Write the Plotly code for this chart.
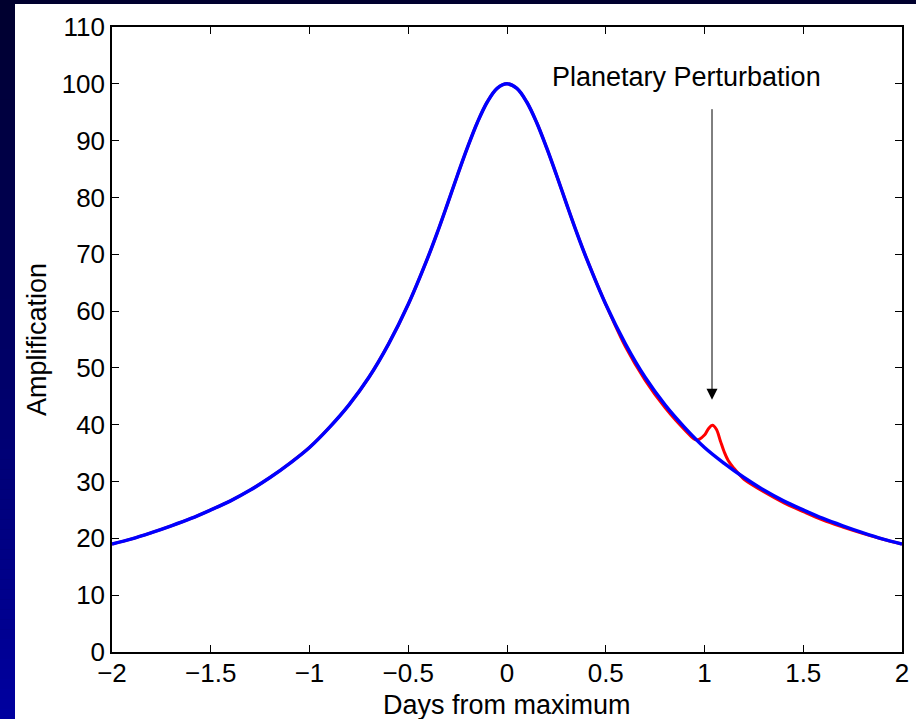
import plotly.graph_objects as go

# ---- data ----
t_blue = [-2.0, -1.9, -1.8, -1.7, -1.6, -1.5, -1.4, -1.3, -1.2, -1.1, -1.0,
          -0.9, -0.8, -0.7, -0.6, -0.5, -0.4, -0.35, -0.3, -0.25, -0.2, -0.15,
          -0.1, -0.05, 0.0, 0.05, 0.1, 0.15, 0.2, 0.25, 0.3, 0.35, 0.4, 0.5,
          0.6, 0.7, 0.8, 0.9, 1.0, 1.1, 1.2, 1.3, 1.4, 1.5, 1.6, 1.7, 1.8,
          1.9, 2.0]
a_blue = [19.0, 19.9, 21.0, 22.2, 23.5, 25.0, 26.6, 28.5, 30.7, 33.2, 36.0,
          39.5, 43.5, 48.3, 54.2, 61.2, 69.5, 74.1, 79.0, 84.0, 88.8, 93.2,
          96.8, 99.2, 100.0, 99.2, 96.8, 93.2, 88.8, 84.0, 79.0, 74.1, 69.5, 61.2,
          54.2, 48.3, 43.5, 39.5, 36.0, 33.2, 30.7, 28.5, 26.6, 25.0, 23.5, 22.2,
          21.0, 19.9, 19.0]

t_red = [-2.0, -1.9, -1.8, -1.7, -1.6, -1.5, -1.4, -1.3, -1.2, -1.1, -1.0,
         -0.9, -0.8, -0.7, -0.6, -0.5, -0.4, -0.35, -0.3, -0.25, -0.2, -0.15,
         -0.1, -0.05, 0.0, 0.05, 0.1, 0.15, 0.2, 0.25, 0.3, 0.35, 0.4, 0.5,
         0.6, 0.7, 0.8, 0.9, 0.96, 1.0, 1.02, 1.04, 1.06, 1.08, 1.10, 1.12,
         1.15, 1.18, 1.2, 1.3, 1.4, 1.5, 1.6, 1.7, 1.8, 1.9, 2.0]
a_red = [19.0, 19.9, 21.0, 22.2, 23.5, 25.0, 26.6, 28.5, 30.7, 33.2, 36.0,
         39.5, 43.5, 48.3, 54.2, 61.2, 69.5, 74.1, 79.0, 84.0, 88.8, 93.2,
         96.8, 99.2, 100.0, 99.2, 96.8, 93.2, 88.8, 84.0, 79.0, 74.1, 69.5, 61.2,
         53.7, 47.8, 43.0, 39.1, 37.3, 38.2, 39.3, 39.9, 39.2, 37.2, 35.2, 33.7,
         32.3, 31.1, 30.4, 28.2, 26.3, 24.7, 23.2, 22.0, 20.9, 19.9, 19.0]

x_ticks = [-2, -1.5, -1, -0.5, 0, 0.5, 1, 1.5, 2]
x_ticktext = ["\u22122", "\u22121.5", "\u22121", "\u22120.5", "0", "0.5", "1", "1.5", "2"]
y_ticks = [0, 10, 20, 30, 40, 50, 60, 70, 80, 90, 100, 110]

annot_text = "Planetary Perturbation"
annot_xy = (0.911, 101.2)
arrow_head = (1.038, 44.4)
arrow_tail = (1.038, 95.8)

# ---- geometry ----
W, H = 916, 719
L, R, T, B = 112, 14, 27, 67
PW, PH = W - L - R, H - T - B


def xp(px):
    return (px - L) / PW


def yp(py):
    return (H - B - py) / PH


FONT = "Liberation Sans, Arial, Helvetica, sans-serif"
TICK_SIZE = 26
TEXT_SIZE = 27

fig = go.Figure()
fig.add_trace(go.Scatter(x=t_red, y=a_red, mode="lines",
                         line=dict(color="#ff0000", width=3, shape="spline", smoothing=1.0),
                         showlegend=False, hoverinfo="skip"))
fig.add_trace(go.Scatter(x=t_blue, y=a_blue, mode="lines",
                         line=dict(color="#0000ff", width=3.5, shape="spline", smoothing=1.0),
                         showlegend=False, hoverinfo="skip"))

# background gradient stripes
shapes = []
N = 72
step = H / N
for i in range(N):
    y0 = i * step
    y1 = (i + 1) * step + 0.5
    f = (i + 0.5) / N
    b = int(0x2e + (0xa0 - 0x2e) * f)
    shapes.append(dict(type="rect", xref="paper", yref="paper",
                       x0=xp(0), x1=xp(W), y0=yp(y1), y1=yp(y0),
                       fillcolor=f"rgb(0,0,{b})", line=dict(width=0), layer="below"))
# white panel
shapes.append(dict(type="rect", xref="paper", yref="paper",
                   x0=xp(15), x1=xp(W + 2), y0=yp(H + 2), y1=yp(4),
                   fillcolor="white", line=dict(width=0), layer="below"))

annotations = [
    dict(x=annot_xy[0], y=annot_xy[1], xref="x", yref="y", text=annot_text,
         showarrow=False, font=dict(family=FONT, size=TEXT_SIZE, color="black"),
         xanchor="center", yanchor="middle"),
    dict(x=arrow_head[0], y=arrow_head[1], ax=arrow_tail[0], ay=arrow_tail[1],
         xref="x", yref="y", axref="x", ayref="y", text="", showarrow=True,
         arrowhead=2, arrowsize=2.2, arrowwidth=1, arrowcolor="black", standoff=0),
    dict(x=0.5, y=yp(705), xref="paper", yref="paper", text="Days from maximum",
         showarrow=False, font=dict(family=FONT, size=TEXT_SIZE, color="black"),
         xanchor="center", yanchor="middle"),
    dict(x=xp(37), y=yp(340), xref="paper", yref="paper", text="Amplification",
         showarrow=False, textangle=-90, font=dict(family=FONT, size=TEXT_SIZE, color="black"),
         xanchor="center", yanchor="middle"),
]

axis_common = dict(showline=True, linecolor="black", linewidth=1.5, mirror="allticks",
                   ticks="inside", ticklen=7, tickwidth=1, tickcolor="black",
                   showgrid=False, zeroline=False, automargin=False,
                   tickfont=dict(family=FONT, size=TICK_SIZE, color="black"))

fig.update_layout(
    width=W, height=H,
    margin=dict(l=L, r=R, t=T, b=B, pad=0, autoexpand=False),
    paper_bgcolor="rgb(0,0,60)", plot_bgcolor="white",
    shapes=shapes, annotations=annotations,
    xaxis=dict(range=[-2, 2], tickvals=x_ticks, ticktext=x_ticktext,
               ticklabelstandoff=-3, **axis_common),
    yaxis=dict(range=[0, 110], tickvals=y_ticks, **axis_common),
)

fig.write_html("out.html")
